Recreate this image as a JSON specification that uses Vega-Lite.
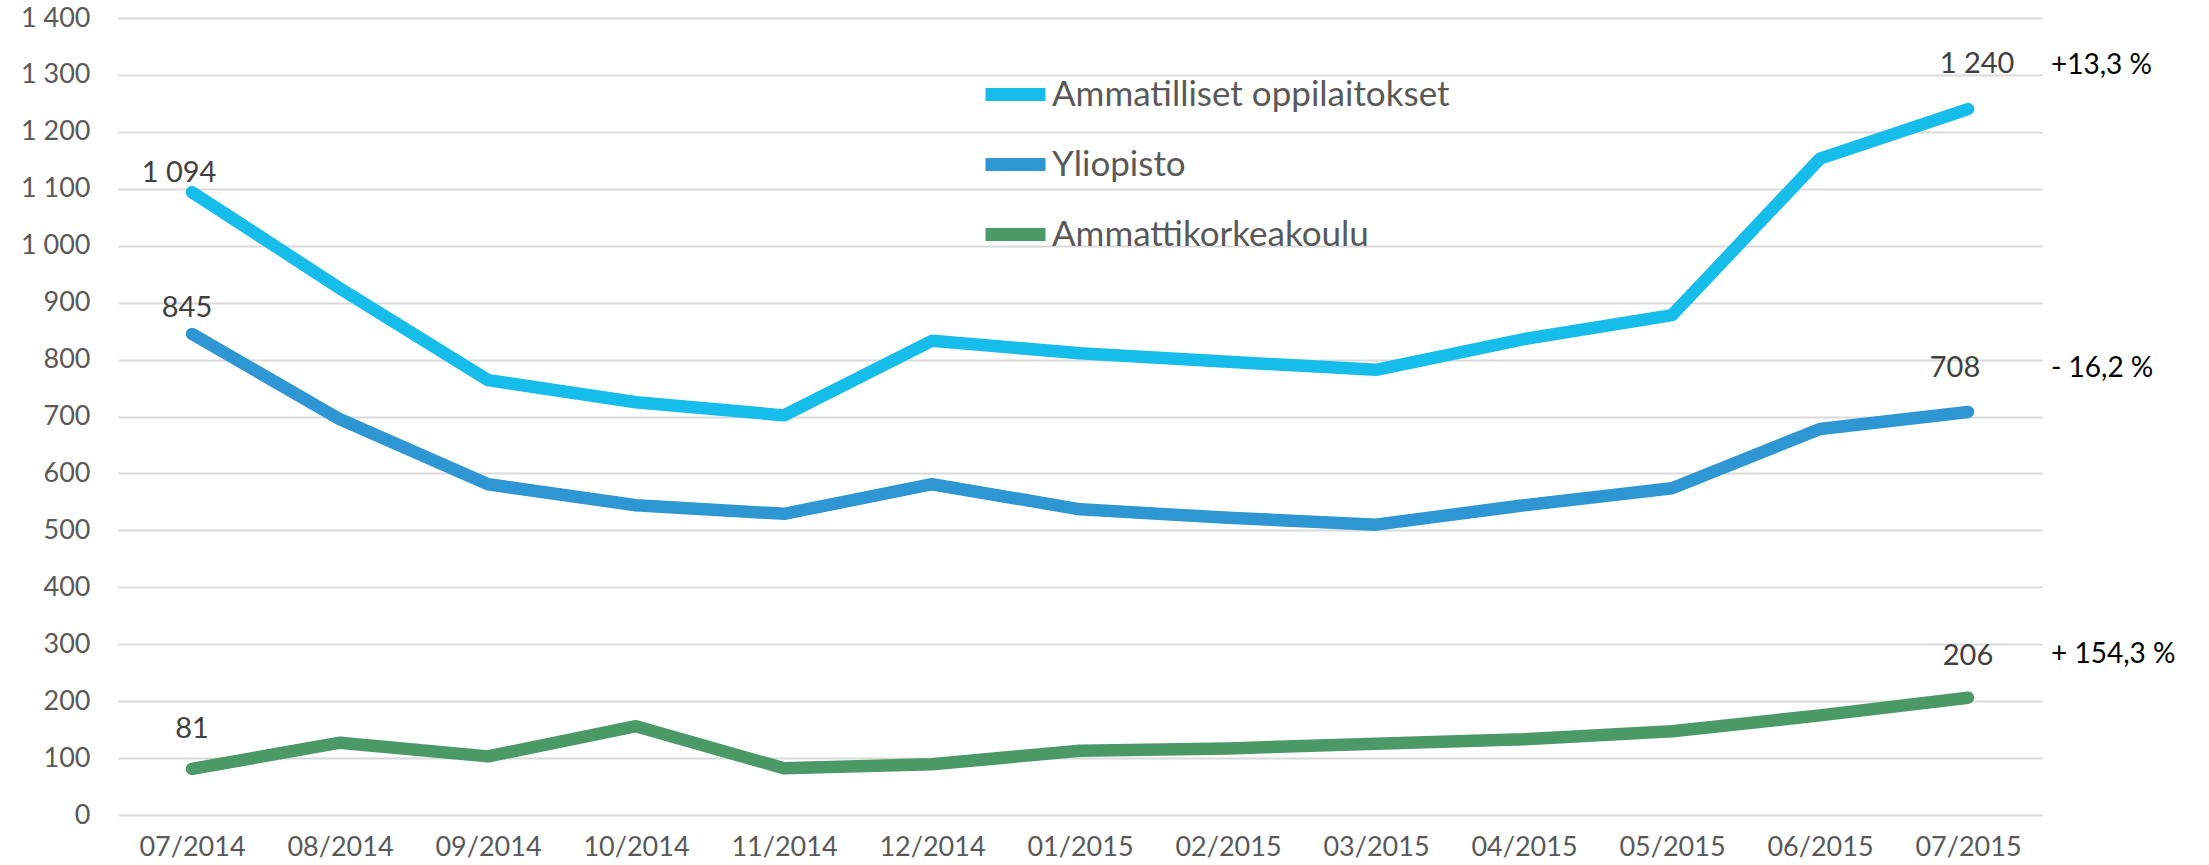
{
  "$schema": "https://vega.github.io/schema/vega-lite/v6.json",
  "width": 1924,
  "height": 797,
  "autosize": {"type": "none"},
  "padding": {"left": 118, "top": 18, "right": 167, "bottom": 50},
  "background": "white",
  "config": {
    "locale": {"number": {"decimal": ",", "thousands": " ", "grouping": [3], "currency": ["", ""]}},
    "view": {"stroke": null},
    "font": "Lato"
  },
  "data": {
    "values": [
      {"month": "07/2014", "series": "Ammatilliset oppilaitokset", "value": 1094},
      {"month": "08/2014", "series": "Ammatilliset oppilaitokset", "value": 925},
      {"month": "09/2014", "series": "Ammatilliset oppilaitokset", "value": 764},
      {"month": "10/2014", "series": "Ammatilliset oppilaitokset", "value": 725},
      {"month": "11/2014", "series": "Ammatilliset oppilaitokset", "value": 702},
      {"month": "12/2014", "series": "Ammatilliset oppilaitokset", "value": 833},
      {"month": "01/2015", "series": "Ammatilliset oppilaitokset", "value": 811},
      {"month": "02/2015", "series": "Ammatilliset oppilaitokset", "value": 796},
      {"month": "03/2015", "series": "Ammatilliset oppilaitokset", "value": 782},
      {"month": "04/2015", "series": "Ammatilliset oppilaitokset", "value": 836},
      {"month": "05/2015", "series": "Ammatilliset oppilaitokset", "value": 878},
      {"month": "06/2015", "series": "Ammatilliset oppilaitokset", "value": 1153},
      {"month": "07/2015", "series": "Ammatilliset oppilaitokset", "value": 1240, "pct": "+13,3 %"},
      {"month": "07/2014", "series": "Yliopisto", "value": 845},
      {"month": "08/2014", "series": "Yliopisto", "value": 695},
      {"month": "09/2014", "series": "Yliopisto", "value": 581},
      {"month": "10/2014", "series": "Yliopisto", "value": 544},
      {"month": "11/2014", "series": "Yliopisto", "value": 529},
      {"month": "12/2014", "series": "Yliopisto", "value": 581},
      {"month": "01/2015", "series": "Yliopisto", "value": 537},
      {"month": "02/2015", "series": "Yliopisto", "value": 522},
      {"month": "03/2015", "series": "Yliopisto", "value": 510},
      {"month": "04/2015", "series": "Yliopisto", "value": 544},
      {"month": "05/2015", "series": "Yliopisto", "value": 574},
      {"month": "06/2015", "series": "Yliopisto", "value": 678},
      {"month": "07/2015", "series": "Yliopisto", "value": 708, "pct": "- 16,2 %"},
      {"month": "07/2014", "series": "Ammattikorkeakoulu", "value": 81},
      {"month": "08/2014", "series": "Ammattikorkeakoulu", "value": 127},
      {"month": "09/2014", "series": "Ammattikorkeakoulu", "value": 103},
      {"month": "10/2014", "series": "Ammattikorkeakoulu", "value": 156},
      {"month": "11/2014", "series": "Ammattikorkeakoulu", "value": 82},
      {"month": "12/2014", "series": "Ammattikorkeakoulu", "value": 89},
      {"month": "01/2015", "series": "Ammattikorkeakoulu", "value": 113},
      {"month": "02/2015", "series": "Ammattikorkeakoulu", "value": 117},
      {"month": "03/2015", "series": "Ammattikorkeakoulu", "value": 125},
      {"month": "04/2015", "series": "Ammattikorkeakoulu", "value": 133},
      {"month": "05/2015", "series": "Ammattikorkeakoulu", "value": 147},
      {"month": "06/2015", "series": "Ammattikorkeakoulu", "value": 175},
      {"month": "07/2015", "series": "Ammattikorkeakoulu", "value": 206, "pct": "+ 154,3 %"}
    ]
  },
  "encoding": {
    "x": {
      "field": "month",
      "type": "ordinal",
      "sort": null,
      "scale": {"type": "point", "padding": 0.5},
      "axis": {
        "title": null,
        "labelAngle": 0,
        "domain": false,
        "ticks": false,
        "grid": false,
        "labelFontSize": 27,
        "labelColor": "#595959",
        "labelPadding": 19
      }
    },
    "y": {
      "field": "value",
      "type": "quantitative",
      "scale": {"domain": [0, 1400], "nice": false},
      "axis": {
        "title": null,
        "values": [0, 100, 200, 300, 400, 500, 600, 700, 800, 900, 1000, 1100, 1200, 1300, 1400],
        "format": ",d",
        "domain": false,
        "ticks": false,
        "gridColor": "#d9d9d9",
        "gridWidth": 2,
        "labelFontSize": 27,
        "labelColor": "#595959",
        "labelPadding": 28
      }
    }
  },
  "layer": [
    {
      "mark": {"type": "line", "strokeWidth": 12.5, "strokeCap": "round", "strokeJoin": "round"},
      "encoding": {
        "color": {
          "field": "series",
          "type": "nominal",
          "scale": {
            "domain": ["Ammatilliset oppilaitokset", "Yliopisto", "Ammattikorkeakoulu"],
            "range": ["#16BDEB", "#2D96D3", "#4B9966"]
          },
          "legend": {
            "title": null,
            "orient": "none",
            "legendX": 861,
            "legendY": 40,
            "symbolType": "stroke",
            "symbolSize": 3600,
            "symbolStrokeWidth": 13,
            "labelFontSize": 35,
            "labelColor": "#595959",
            "labelOffset": 0,
            "rowPadding": 7,
            "padding": 0,
            "labelLimit": 700
          }
        }
      }
    },
    {
      "transform": [{"filter": "datum.month == '07/2014' && datum.series == 'Ammatilliset oppilaitokset'"}],
      "mark": {"type": "text", "fontSize": 29, "color": "#404040", "baseline": "alphabetic", "dy": -10, "dx": -13},
      "encoding": {"text": {"field": "value", "type": "quantitative", "format": ",d"}}
    },
    {
      "transform": [{"filter": "datum.month == '07/2014' && datum.series == 'Yliopisto'"}],
      "mark": {"type": "text", "fontSize": 29, "color": "#404040", "baseline": "alphabetic", "dy": -17, "dx": -5},
      "encoding": {"text": {"field": "value", "type": "quantitative", "format": ",d"}}
    },
    {
      "transform": [{"filter": "datum.month == '07/2014' && datum.series == 'Ammattikorkeakoulu'"}],
      "mark": {"type": "text", "fontSize": 29, "color": "#404040", "baseline": "alphabetic", "dy": -31, "dx": 0},
      "encoding": {"text": {"field": "value", "type": "quantitative", "format": ",d"}}
    },
    {
      "transform": [{"filter": "datum.month == '07/2015' && datum.series == 'Ammatilliset oppilaitokset'"}],
      "mark": {"type": "text", "fontSize": 29, "color": "#404040", "baseline": "alphabetic", "dy": -36, "dx": 9},
      "encoding": {"text": {"field": "value", "type": "quantitative", "format": ",d"}}
    },
    {
      "transform": [{"filter": "datum.month == '07/2015' && datum.series == 'Yliopisto'"}],
      "mark": {"type": "text", "fontSize": 29, "color": "#404040", "baseline": "alphabetic", "dy": -35, "dx": -13},
      "encoding": {"text": {"field": "value", "type": "quantitative", "format": ",d"}}
    },
    {
      "transform": [{"filter": "datum.month == '07/2015' && datum.series == 'Ammattikorkeakoulu'"}],
      "mark": {"type": "text", "fontSize": 29, "color": "#404040", "baseline": "alphabetic", "dy": -33, "dx": 0},
      "encoding": {"text": {"field": "value", "type": "quantitative", "format": ",d"}}
    },
    {
      "transform": [{"filter": "datum.month == '07/2015'"}],
      "mark": {"type": "text", "fontSize": 28, "color": "#000000", "baseline": "alphabetic", "align": "left", "dy": -35, "dx": 83},
      "encoding": {"text": {"field": "pct", "type": "nominal"}}
    }
  ]
}
